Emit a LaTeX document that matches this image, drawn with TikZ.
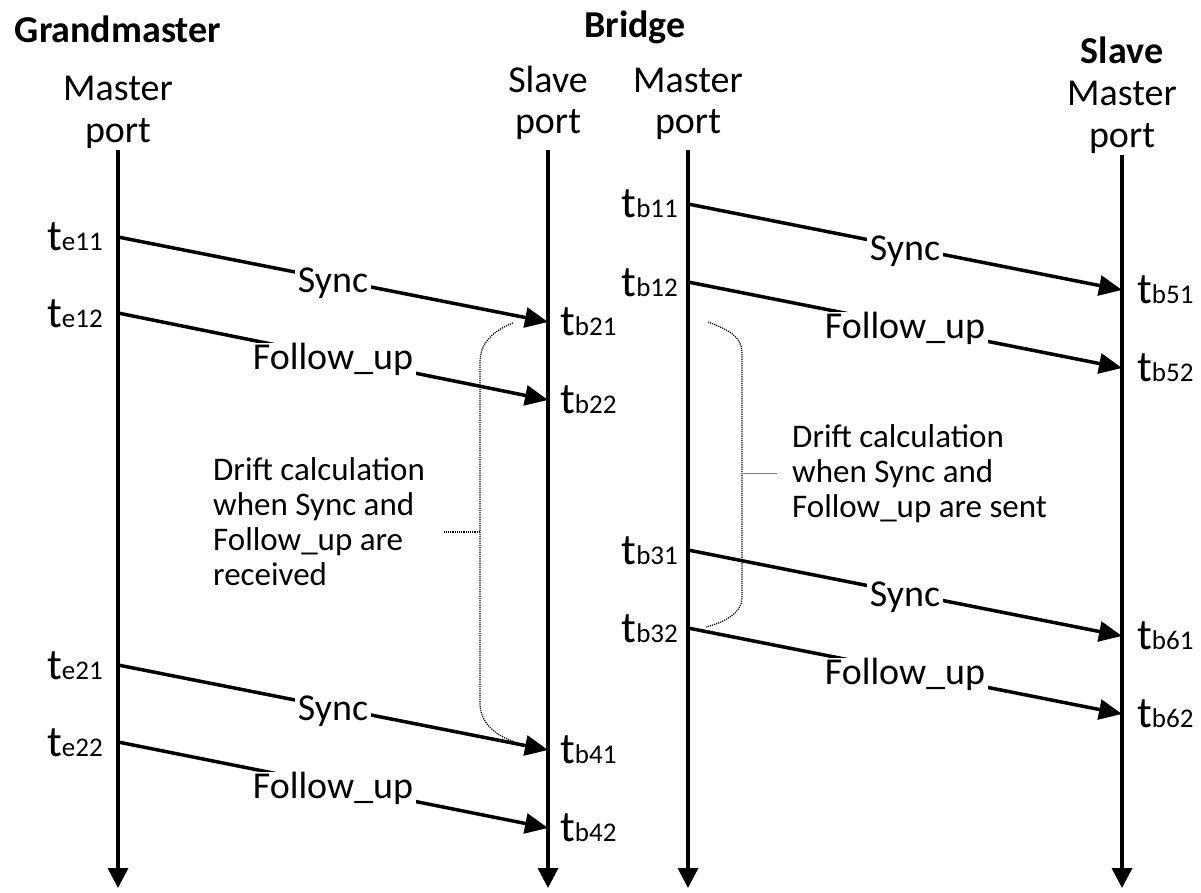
\documentclass[tikz,border=0pt]{standalone}
\usepackage{fontspec}
\setmainfont{Carlito}
\usetikzlibrary{arrows.meta}

% timestamp: large "t" followed by a small index on the same baseline
\newcommand{\tstamp}[1]{{\fontsize{44}{44}\selectfont t}{\fontsize{27}{27}\selectfont #1}}

\tikzset{
  timeline/.style={line width=3.5pt, -{Triangle[length=20pt,width=20pt]}},
  msgarrow/.style={line width=3.5pt, -{Triangle[length=23pt,width=20pt]}},
  msglabel/.style={midway, anchor=base, yshift=-13pt, fill=white, inner xsep=3pt, inner ysep=0pt,
                   font=\fontsize{38}{38}\selectfont},
  head/.style={anchor=base, inner sep=0pt, font=\fontsize{38}{46}\selectfont},
  headbold/.style={head, font=\fontsize{38}{46}\selectfont\bfseries},
  tsleft/.style={anchor=base east, inner sep=0pt},
  tsright/.style={anchor=base west, inner sep=0pt},
  brace/.style={densely dotted, line width=1.2pt},
  drift/.style={align=left, inner sep=0pt, anchor=north west, font=\fontsize{33}{35}\selectfont},
}

\begin{document}
\begin{tikzpicture}[x=1pt, y=-1pt]
\useasboundingbox (0,0) rectangle (1201,893);

% ---- column headings ----
\node[headbold] (hgm)  at (118,43)  {Grandmaster};
\node[head]     (hgm1) at (118,101) {Master};
\node[head]     (hgm2) at (118,143) {port};

\node[headbold] (hbr)  at (635,38)  {Bridge};
\node[head]     (hbs1) at (548,93)  {Slave};
\node[head]     (hbs2) at (548,134) {port};
\node[head]     (hbm1) at (688,93)  {Master};
\node[head]     (hbm2) at (688,134) {port};

\node[headbold] (hsl)  at (1122,64)  {Slave};
\node[head]     (hsl1) at (1122,106) {Master};
\node[head]     (hsl2) at (1122,148) {port};

% ---- time lines ----
\coordinate (gmT) at (118,150);  \coordinate (gmB) at (118,888);
\coordinate (bsT) at (548,150);  \coordinate (bsB) at (548,888);
\coordinate (bmT) at (688,150);  \coordinate (bmB) at (688,888);
\coordinate (slT) at (1122,155); \coordinate (slB) at (1122,888);
\draw[timeline] (gmT) -- (gmB);
\draw[timeline] (bsT) -- (bsB);
\draw[timeline] (bmT) -- (bmB);
\draw[timeline] (slT) -- (slB);

% ---- event points: grandmaster -> bridge slave port ----
\coordinate (e11) at (118,237); \coordinate (b21) at (548,322);
\coordinate (e12) at (118,313); \coordinate (b22) at (548,400);
\coordinate (e21) at (118,665); \coordinate (b41) at (548,750);
\coordinate (e22) at (118,742); \coordinate (b42) at (548,828);

% ---- event points: bridge master port -> slave ----
\coordinate (b11) at (688,204); \coordinate (b51) at (1122,290);
\coordinate (b12) at (688,282); \coordinate (b52) at (1122,368);
\coordinate (b31) at (688,550); \coordinate (b61) at (1122,636);
\coordinate (b32) at (688,628); \coordinate (b62) at (1122,714);

% ---- messages ----
\draw[msgarrow] (e11) -- node[msglabel] (m1) {Sync} (b21);
\draw[msgarrow] (e12) -- node[msglabel] (m2) {Follow\_up} (b22);
\draw[msgarrow] (e21) -- node[msglabel] (m3) {Sync} (b41);
\draw[msgarrow] (e22) -- node[msglabel] (m4) {Follow\_up} (b42);
\draw[msgarrow] (b11) -- node[msglabel] (m5) {Sync} (b51);
\draw[msgarrow] (b12) -- node[msglabel] (m6) {Follow\_up} (b52);
\draw[msgarrow] (b31) -- node[msglabel] (m7) {Sync} (b61);
\draw[msgarrow] (b32) -- node[msglabel] (m8) {Follow\_up} (b62);

% ---- timestamps ----
\node[tsleft] (te11) at (103,251) {\tstamp{e11}};
\node[tsleft] (te12) at (103,327) {\tstamp{e12}};
\node[tsleft] (te21) at (103,679) {\tstamp{e21}};
\node[tsleft] (te22) at (103,756) {\tstamp{e22}};

\node[tsright] (tb21) at (560,335) {\tstamp{b21}};
\node[tsright] (tb22) at (560,413) {\tstamp{b22}};
\node[tsright] (tb41) at (560,763) {\tstamp{b41}};
\node[tsright] (tb42) at (560,841) {\tstamp{b42}};

\node[tsleft] (tb11) at (678,218) {\tstamp{b11}};
\node[tsleft] (tb12) at (678,296) {\tstamp{b12}};
\node[tsleft] (tb31) at (678,564) {\tstamp{b31}};
\node[tsleft] (tb32) at (678,642) {\tstamp{b32}};

\node[tsright] (tb51) at (1137,303) {\tstamp{b51}};
\node[tsright] (tb52) at (1137,381) {\tstamp{b52}};
\node[tsright] (tb61) at (1137,649) {\tstamp{b61}};
\node[tsright] (tb62) at (1137,727) {\tstamp{b62}};

% ---- drift calculation brackets ----
\draw[brace] (513,323) .. controls (490,332) and (480,345) .. (480,363)
             -- (480,703) .. controls (480,722) and (494,735) .. (515,742);
\draw[brace] (708,322) .. controls (730,330) and (742,338) .. (742,352)
             -- (742,598) .. controls (742,612) and (726,622) .. (706,627);

\node[drift] (dl) at (213,457)
  {Drift calculation\\when Sync and\\Follow\_up are\\received};
\node[drift] (dr) at (792,424)
  {Drift calculation\\when Sync and\\Follow\_up are sent};

\coordinate (tickL) at (480,532); \coordinate (tickLe) at (444,532);
\coordinate (tickR) at (742,473); \coordinate (tickRe) at (777,473);
\draw[brace] (tickL) -- (tickLe);
\draw[line width=0.8pt, gray] (tickR) -- (tickRe);
\end{tikzpicture}
\end{document}
